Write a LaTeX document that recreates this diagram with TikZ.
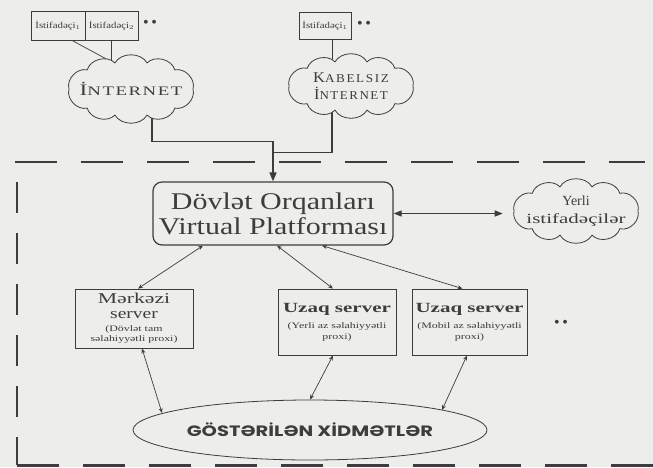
\documentclass[tikz,border=0pt]{standalone}
\usepackage{fontspec}
\setmainfont{Liberation Serif}
\newfontfamily\capsans{Poppins}
\usetikzlibrary{shapes.geometric,arrows.meta,backgrounds,calc}

\definecolor{paper}{RGB}{237,237,235}
\definecolor{ink}{RGB}{62,60,60}

% horizontal stretch for the wide typeface look
\newcommand\sx[2]{\scalebox{#1}[1]{#2}}
% small note line inside a server box
\newcommand\srvnote[1]{{\fontsize{8.5}{9}\selectfont\mdseries\sx{1.4}{#1}}}
% puffy outline round an elliptic node: name, half width, half height
\newcommand\puffcloud[3]{%
  \filldraw[cloudline] ($(#1.center)+(#2,0)$)
    foreach \t in {45,75,105,135,180,225,255,285,315,360}
      { to[bend left=60] ($(#1.center)+({#2*cos(\t)},{#3*sin(\t)})$) } -- cycle;}

\tikzset{
  userbox/.style={draw=ink, line width=0.8pt, fill=paper, minimum height=29pt,
    inner sep=0pt, text=ink, font=\fontsize{9}{9}\selectfont},
  cloudcore/.style={ellipse, inner sep=0pt, align=center, text=ink},
  cloudline/.style={draw=ink, line width=0.8pt, fill=paper},
  platbox/.style={draw=ink, line width=1.2pt, rounded corners=9pt, fill=paper,
    minimum width=240pt, minimum height=63pt, align=center, inner sep=0pt,
    text=ink, font=\fontsize{24}{25}\selectfont},
  srvbox/.style={draw=ink, line width=0.8pt, fill=paper, align=center,
    inner sep=0pt, text=ink},
  svcell/.style={ellipse, draw=ink, line width=0.8pt, fill=paper,
    minimum width=354pt, minimum height=60pt, inner sep=0pt, text=ink},
  link/.style={draw=ink, line width=0.7pt,
    {Stealth[length=5pt,width=4pt]}-{Stealth[length=5pt,width=4pt]}},
  biglink/.style={draw=ink, line width=1.2pt,
    {Triangle[length=8pt,width=6pt]}-{Triangle[length=8pt,width=6pt]}},
  feed/.style={draw=ink, line width=1.6pt},
  thinfeed/.style={draw=ink, line width=0.7pt},
  more/.style={text=ink, font=\fontsize{16}{16}\selectfont, inner sep=0pt},
}

\begin{document}
\begin{tikzpicture}[x=1pt,y=-1pt]
\useasboundingbox (0,0) rectangle (653,467);

% users on the public side
\node[userbox, minimum width=54pt] (u1) at (58,25.5) {\sx{1.2}{İstifadəçi$_1$}};
\node[userbox, minimum width=53pt] (u2) at (111.5,25.5) {\sx{1.2}{İstifadəçi$_2$}};
\node[more] (d1) at (150,24) {\textbullet\,\textbullet};
\node[userbox, minimum width=52pt, minimum height=27pt] (u3) at (325,25.5) {\sx{1.2}{İstifadəçi$_1$}};
\node[more] (d2) at (364,25) {\textbullet\,\textbullet};

% networks
\node[cloudcore, minimum width=124pt, minimum height=54pt] (inet) at (131,89)
  {\sx{1.45}{{\fontsize{16}{16}\selectfont İ}{\fontsize{13}{13}\selectfont\addfontfeature{LetterSpace=8}NTERNET}}};
\node[cloudcore, minimum width=124pt, minimum height=50pt] (kab) at (351,86)
  {\sx{1.1}{{\fontsize{15}{15}\selectfont K}{\fontsize{12}{12}\selectfont\addfontfeature{LetterSpace=12}ABELSIZ}}\\[4pt]
   \sx{1.08}{{\fontsize{15}{15}\selectfont İ}{\fontsize{12}{12}\selectfont\addfontfeature{LetterSpace=12}NTERNET}}};

% platform and local users
\node[platbox] (plat) at (273,213.5) {\sx{1.25}{Dövlət Orqanları}\\\sx{1.25}{Virtual Platforması}};
\node[cloudcore, minimum width=124pt, minimum height=50pt, font=\fontsize{14}{18}\selectfont] (yerli) at (576,211)
  {Yerli\\\sx{1.5}{istifadəçilər}};

% servers
\node[srvbox, minimum width=118pt, minimum height=59pt, font=\fontsize{15}{15}\selectfont] (srv1) at (134,318.5)
  {\sx{1.45}{Mərkəzi}\\\sx{1.3}{server}\\[-2pt]
   \srvnote{(Dövlət tam}\\[-5pt]\srvnote{səlahiyyətli proxi)}};
\node[srvbox, minimum width=118pt, minimum height=66pt, font=\fontsize{14}{15}\selectfont\bfseries] (srv2) at (337,322)
  {\sx{1.5}{Uzaq server}\\[1pt]
   \srvnote{(Yerli az səlahiyyətli}\\[-4pt]\srvnote{proxi)}};
\node[srvbox, minimum width=115pt, minimum height=66pt, font=\fontsize{14}{15}\selectfont\bfseries] (srv3) at (469.5,322)
  {\sx{1.5}{Uzaq server}\\[1pt]
   \srvnote{(Mobil az səlahiyyətli}\\[-4pt]\srvnote{proxi)}};
\node[more] (d3) at (561,324) {\textbullet\,\textbullet};

% services
\node[svcell, font=\capsans\bfseries\fontsize{15}{15}\selectfont] (svc) at (310,430)
  {\sx{1.3}{GÖSTƏRİLƏN XİDMƏTLƏR}};

\begin{pgfonlayer}{background}
  \fill[paper] (0,0) rectangle (653,467);
  % domain boundary
  \draw[ink, line width=1.6pt, dash pattern=on 42pt off 24pt] (15,162) -- (645,162);
  \draw[ink, line width=1.8pt, dash pattern=on 31pt off 20pt] (17,182) -- (17,465);
  \draw[ink, line width=3pt, dash pattern=on 42pt off 24pt] (17,465) -- (653,465);
  % users to networks
  \draw[thinfeed] ([xshift=14pt]u1.south) -- (u2.south |- inet.north);
  \draw[thinfeed] (u2.south) -- (u2.south |- inet.north);
  \draw[thinfeed] ([xshift=7pt]u3.south) -- ([xshift=7pt]u3.south |- kab.north);
  % networks to platform
  \draw[feed, -{Triangle[length=9pt,width=7pt]}] ([xshift=21pt]inet.south) |- ([yshift=40pt]plat.north) -- (plat.north);
  \draw[feed] ([xshift=-19pt]kab.south) |- ([yshift=29pt]plat.north);
  % platform links
  \draw[biglink] (plat.east) -- ([xshift=-3pt]yerli.west |- plat.east);
  \draw[link] ([xshift=-70pt]plat.south) -- ([xshift=4pt]srv1.north);
  \draw[link] ([xshift=4pt]plat.south) -- ([xshift=-4pt]srv2.north);
  \draw[link] ([xshift=49pt]plat.south) -- ([xshift=-7pt]srv3.north);
  % servers to services
  \draw[link] ([xshift=8pt]srv1.south) -- ([xshift=-148pt,yshift=17pt]svc.center);
  \draw[link] ([xshift=-4pt]srv2.south) -- (svc.north);
  \draw[link] ([xshift=-2.5pt]srv3.south) -- ([xshift=132pt,yshift=20pt]svc.center);
  % cloud outlines, laid over the connector ends
  \puffcloud{inet}{62}{27}
  \puffcloud{kab}{62}{25}
  \puffcloud{yerli}{62}{25}
\end{pgfonlayer}
\end{tikzpicture}
\end{document}
